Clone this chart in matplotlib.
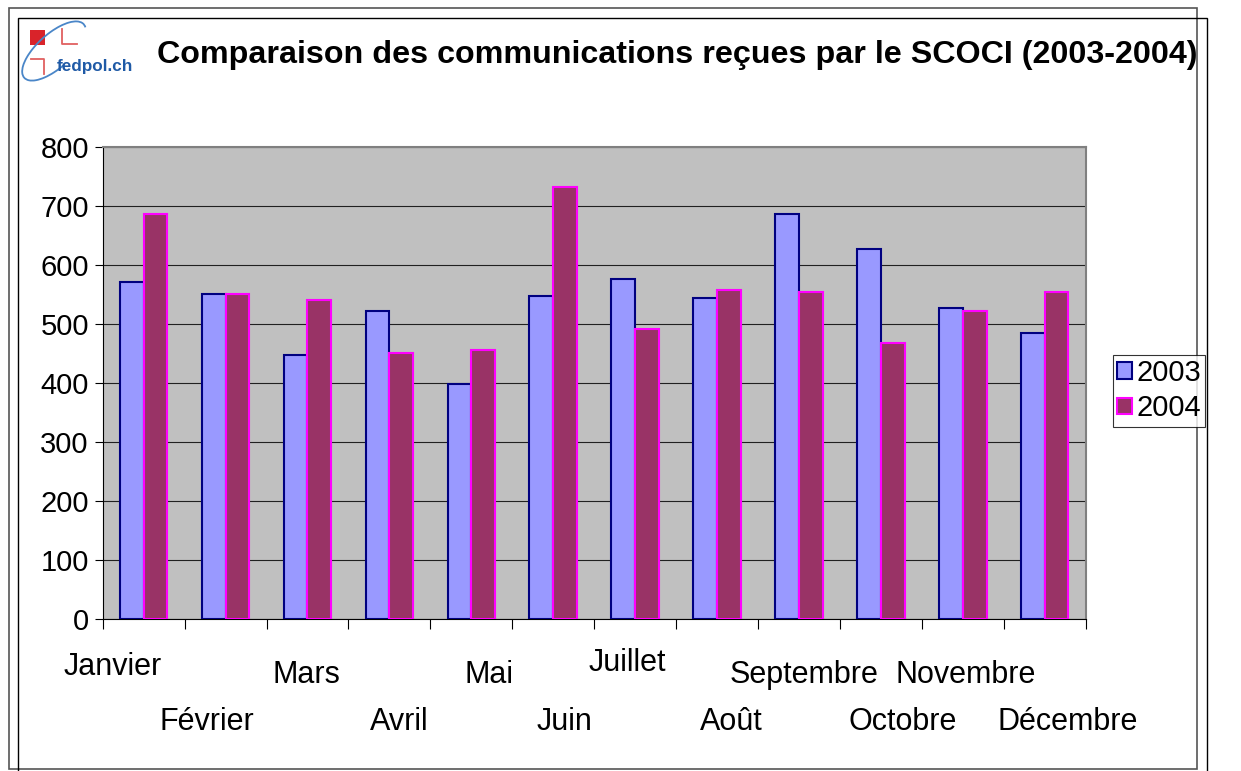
import numpy as np
import matplotlib.pyplot as plt
from matplotlib.patches import Rectangle, Arc
from matplotlib.lines import Line2D
from matplotlib.transforms import blended_transform_factory, IdentityTransform

plt.rcParams['font.family'] = ['Liberation Sans', 'DejaVu Sans']

# data
mois = ['Janvier', 'Février', 'Mars', 'Avril', 'Mai', 'Juin',
        'Juillet', 'Août', 'Septembre', 'Octobre', 'Novembre', 'Décembre']
annees = ['2003', '2004']
val_2003 = [570, 550, 448, 521, 398, 547, 576, 544, 686, 626, 527, 484]
val_2004 = [686, 550, 540, 451, 455, 732, 491, 557, 554, 468, 521, 554]
yticks = [0, 100, 200, 300, 400, 500, 600, 700, 800]

W, H = 1241, 771
fig = plt.figure(figsize=(W / 100, H / 100), dpi=100)
fig.patch.set_facecolor('white')


def px(x, y):
    # pixel position -> figure fraction
    return x / W, 1 - y / H


# page frames (two offset rectangles)
x0, y0 = px(8.5, 769)
x1, y1 = px(1197, 8)
fig.add_artist(Rectangle((x0, y0), x1 - x0, y1 - y0, transform=fig.transFigure,
                         fill=False, edgecolor='#555555', lw=1.2))
x0, y0 = px(18, 790)
x1, y1 = px(1206.5, 18)
fig.add_artist(Rectangle((x0, y0), x1 - x0, y1 - y0, transform=fig.transFigure,
                         fill=False, edgecolor='black', lw=1.0))

# logo
lx, ly = px(30, 45)
fig.add_artist(Rectangle((lx, ly), 15 / W, 15 / H, transform=fig.transFigure,
                         facecolor='#d9232a', edgecolor='none'))
for pts in ([(62, 29), (62, 43.5), (77, 43.5)], [(30.5, 58.5), (43.5, 58.5), (43.5, 73.5)]):
    xs, ys = zip(*[px(a, b) for a, b in pts])
    fig.add_artist(Line2D(xs, ys, transform=fig.transFigure, color='#e06060', lw=1.3))
fig.add_artist(Arc((54, H - 51), 80, 34, angle=42, theta1=-5, theta2=262,
                   transform=IdentityTransform(), color='#4a86c8', lw=1.3))
tx, ty = px(57, 67)
fig.text(tx, ty, 'fedpol.ch', color='#1f5aa6', fontsize=12.3, fontweight='bold',
         ha='left', va='center')

# title
tx, ty = px(157, 55)
fig.text(tx, ty, 'Comparaison des communications reçues par le SCOCI (2003-2004)',
         fontsize=23.2, fontweight='bold', ha='left', va='center')

# plot area
ax_l, ax_b = px(102.7, 619)
ax_r, ax_t = px(1085.7, 146.7)
ax = fig.add_axes([ax_l, ax_b, ax_r - ax_l, ax_t - ax_b])
ax.set_facecolor('#c0c0c0')

x = np.arange(len(mois))
bw = 0.29
ax.bar(x - bw / 2, val_2003, bw, color='#9999ff', edgecolor='#000080', lw=1.5,
       label=annees[0], zorder=3)
ax.bar(x + bw / 2, val_2004, bw, color='#993366', edgecolor='#ff00ff', lw=1.5,
       label=annees[1], zorder=3)

ax.set_xlim(-0.5, len(mois) - 0.5)
ax.set_ylim(0, 800)
ax.set_yticks(yticks)
ax.set_yticklabels([str(v) for v in yticks], fontsize=21)
ax.yaxis.grid(True, color='#202020', lw=0.8, zorder=1)
ax.set_axisbelow(True)
ax.tick_params(axis='y', direction='out', length=6, width=0.8, pad=4)

ax.set_xticks([])
ax.set_xticks(np.arange(-0.5, len(mois)), minor=True)
ax.tick_params(axis='x', which='minor', direction='out', length=7, width=0.8)
ax.tick_params(axis='x', which='major', length=0)

for side in ['top', 'right']:
    ax.spines[side].set_color('#808080')
    ax.spines[side].set_linewidth(1.5)
ax.spines['left'].set_color('black')
ax.spines['bottom'].set_color('black')

# staggered month labels as in the original layout
dx_px = [-31, -19, -1, 10, 18, 11, -8, 14, 5, 22, 3, 23]
y_px = [667, 722, 675, 722, 675, 722, 663, 722, 675, 722, 675, 722]
trans = blended_transform_factory(ax.transData, fig.transFigure)
cat_px = (1085.7 - 102.7) / len(mois)
for i, m in enumerate(mois):
    ax.text(x[i] + dx_px[i] / cat_px, 1 - y_px[i] / H, m, transform=trans,
            fontsize=22, ha='center', va='center', clip_on=False)

lg_x, lg_y = px(1112.7, 426.7)
leg = fig.legend(loc='lower left', bbox_to_anchor=(lg_x, lg_y), fontsize=21,
                 frameon=True, fancybox=False, edgecolor='black', handlelength=0.5,
                 handleheight=0.5, handletextpad=0.15, borderpad=0.15,
                 labelspacing=0.25, borderaxespad=0)
leg.get_frame().set_linewidth(0.8)

plt.savefig('out.png', dpi=100)
